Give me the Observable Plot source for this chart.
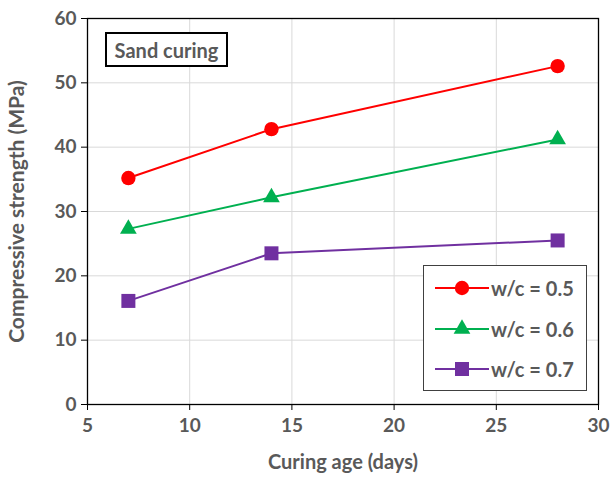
<!DOCTYPE html>
<html><head><meta charset="utf-8">
<script src="https://cdn.jsdelivr.net/npm/d3@7"></script>
<script src="https://cdn.jsdelivr.net/npm/@observablehq/plot@0.6"></script>
<style>
body{margin:0;background:#fff;font-family:Lato,"Open Sans",sans-serif;}
#wrap{position:relative;width:611px;height:479px;}
.box{position:absolute;background:#fff;border:2px solid #000;box-sizing:border-box;}
.lab{font-weight:bold;color:#595959;}
</style></head>
<body><div id="wrap"></div>
<script>
const ages = [7, 14, 28];
const series = ["w/c = 0.5", "w/c = 0.6", "w/c = 0.7"];
const wc05 = [35.2, 42.8, 52.6];
const wc06 = [27.3, 32.2, 41.2];
const wc07 = [16.1, 23.5, 25.5];
const colors = ["#ff0000", "#00b050", "#7030a0"];
const symbols = ["circle", "triangle", "square"];
const xTicks = [5, 10, 15, 20, 25, 30];
const yTicks = [0, 10, 20, 30, 40, 50, 60];
const panelLabel = "Sand curing";
const xLabel = "Curing age (days)";
const yLabel = "Compressive strength (MPa)";

const values = [wc05, wc06, wc07];
const data = [];
series.forEach((s, i) => ages.forEach((a, j) => data.push({series: s, age: a, strength: values[i][j]})));

const sizes = {circle: 7.2, triangle: 6.2, square: 7.9};
const marks = [
  Plot.gridX(xTicks.slice(1, -1), {stroke: "#d9d9d9", strokeOpacity: 1}),
  Plot.gridY(yTicks.slice(1, -1), {stroke: "#d9d9d9", strokeOpacity: 1}),
  Plot.frame({stroke: "#000", strokeWidth: 1.3}),
  Plot.axisX({ticks: xTicks, tickSize: 6, tickPadding: 8, stroke: "#000", fontSize: 19, label: null}),
  Plot.axisY({ticks: yTicks, tickSize: 6, tickPadding: 5, stroke: "#000", fontSize: 19, label: null}),
  Plot.axisX({ticks: [], tickSize: 0, fontSize: 20,
    label: xLabel, labelAnchor: "center", labelArrow: "none", labelOffset: 64}),
  Plot.axisY({ticks: [], tickSize: 0, fontSize: 21,
    label: yLabel, labelAnchor: "center", labelArrow: "none", labelOffset: 78})
];
series.forEach((s, i) => {
  const d = data.filter(r => r.series === s);
  marks.push(Plot.line(d, {x: "age", y: "strength", stroke: colors[i], strokeWidth: 2}));
  marks.push(Plot.dot(d, {x: "age", y: "strength", fill: colors[i], symbol: symbols[i], r: sizes[symbols[i]]}));
});

const chart = Plot.plot({
  width: 611, height: 479,
  marginLeft: 87, marginRight: 13, marginTop: 18, marginBottom: 75,
  x: {domain: [5, 30]},
  y: {domain: [0, 60]},
  style: {fontFamily: "Lato, 'Open Sans', sans-serif", fontWeight: "bold", color: "#595959", background: "#fff"},
  marks
});
const wrap = document.getElementById("wrap");
wrap.appendChild(chart);

// panel label
const pl = document.createElement("div");
pl.className = "box lab";
Object.assign(pl.style, {left: "105px", top: "32px", width: "123px", height: "35px", fontSize: "20px", display: "flex", alignItems: "center", justifyContent: "center"});
pl.textContent = panelLabel;
wrap.appendChild(pl);

// legend
const lg = document.createElement("div");
lg.className = "box";
Object.assign(lg.style, {left: "423px", top: "265px", width: "164px", height: "126px", border: "1.5px solid #404040"});
series.forEach((s, i) => {
  const row = document.createElement("div");
  Object.assign(row.style, {position: "absolute", left: "10px", top: (8 + i * 40.5) + "px", height: "28px", display: "flex", alignItems: "center"});
  const sw = d3.create("svg").attr("width", 56).attr("height", 28);
  sw.append("line").attr("x1", 1).attr("x2", 55).attr("y1", 14).attr("y2", 14).attr("stroke", colors[i]).attr("stroke-width", 2);
  const sym = {circle: d3.symbolCircle, triangle: d3.symbolTriangle, square: d3.symbolSquare}[symbols[i]];
  const r = sizes[symbols[i]];
  sw.append("path").attr("transform", "translate(28,14)").attr("d", d3.symbol(sym, r * r * Math.PI)()).attr("fill", colors[i]);
  row.appendChild(sw.node());
  const t = document.createElement("span");
  t.className = "lab";
  t.style.fontSize = "20px";
  t.style.marginLeft = "1px";
  t.textContent = s;
  row.appendChild(t);
  lg.appendChild(row);
});
wrap.appendChild(lg);
</script></body></html>
